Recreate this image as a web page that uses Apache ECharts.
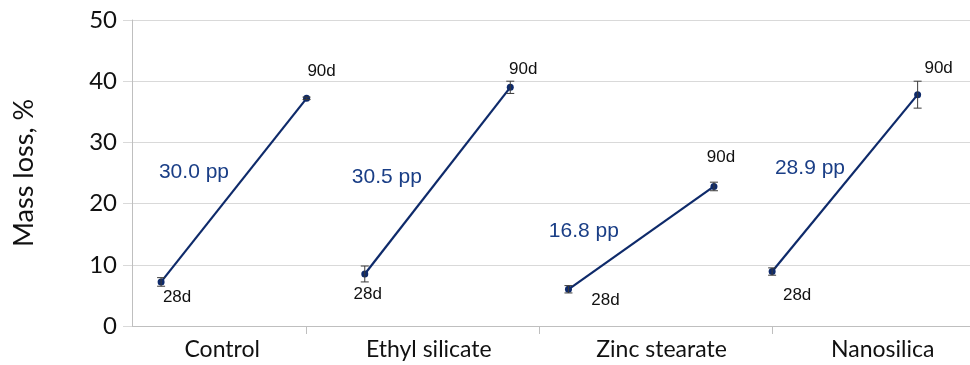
<!DOCTYPE html>
<html>
<head>
<meta charset="utf-8">
<script src="https://cdn.jsdelivr.net/npm/echarts@6/dist/echarts.min.js"></script>
<style>
  html, body { margin: 0; padding: 0; background: #fff; }
  #chart { width: 970px; height: 365px; }
</style>
</head>
<body>
<div id="chart"></div>
<script>
// Treatments and where each one sits along the horizontal scale
const groups = ['Control', 'Ethyl silicate', 'Zinc stearate', 'Nanosilica'];
const pos28 = [1, 8, 15, 22];
const pos90 = [6, 13, 20, 27];
const groupEdges = [6, 14, 22];
const groupCentres = [3.1, 10.2, 18.2, 25.8];

// Mass loss (%) after 28 and 90 days, with error half-widths
const loss28 = [7.2, 8.5, 6.0, 8.9];
const loss90 = [37.2, 39.0, 22.8, 37.8];
const err28 = [0.7, 1.3, 0.6, 0.6];
const err90 = [0.2, 1.0, 0.7, 2.2];

// Y axis scale
const yMin = 0, yMax = 50, yStep = 10;

const lineColor = '#0E2A6A';
const noteColor = '#1A3E86';
const axisFont = 'Lato, "Open Sans", sans-serif';
const tagFont = '"Liberation Sans", Arial, sans-serif';

// Placement of the "28d"/"90d" tags relative to their points (px)
const tagShift28 = [[16, 15], [3, 20], [37, 11], [25, 24]];
const tagShift90 = [[15, -27], [13, -18], [7, -29], [21, -26]];
// Anchor of each difference note, in axis units
const noteAt = [[2.13, 25.2], [8.76, 24.3], [15.53, 15.5], [23.3, 25.8]];

const tagLabel = (shift) => ({
  show: true,
  position: 'inside',
  offset: shift,
  color: '#111',
  fontFamily: tagFont,
  fontSize: 17
});

const lineSeries = groups.map((g, i) => ({
  name: g,
  type: 'line',
  xAxisIndex: 0,
  data: [
    { value: [pos28[i], loss28[i]], label: Object.assign(tagLabel(tagShift28[i]), { formatter: '28d' }) },
    { value: [pos90[i], loss90[i]], label: Object.assign(tagLabel(tagShift90[i]), { formatter: '90d' }) }
  ],
  symbol: 'circle',
  symbolSize: 7,
  itemStyle: { color: lineColor },
  lineStyle: { color: lineColor, width: 2.2 },
  z: 3
}));

const errData = [];
groups.forEach((g, i) => {
  errData.push([pos28[i], loss28[i], err28[i]]);
  errData.push([pos90[i], loss90[i], err90[i]]);
});

const errSeries = {
  type: 'custom',
  xAxisIndex: 0,
  data: errData,
  z: 4,
  renderItem: function (params, api) {
    const x = api.value(0), y = api.value(1), e = api.value(2);
    const hi = api.coord([x, y + e]);
    const lo = api.coord([x, y - e]);
    const cap = 4;
    const style = { stroke: '#3a3a3a', lineWidth: 1 };
    return {
      type: 'group',
      children: [
        { type: 'line', shape: { x1: hi[0], y1: hi[1], x2: lo[0], y2: lo[1] }, style },
        { type: 'line', shape: { x1: hi[0] - cap, y1: hi[1], x2: hi[0] + cap, y2: hi[1] }, style },
        { type: 'line', shape: { x1: lo[0] - cap, y1: lo[1], x2: lo[0] + cap, y2: lo[1] }, style }
      ]
    };
  }
};

// Difference notes: 90d minus 28d, in percentage points
const noteSeries = {
  type: 'scatter',
  xAxisIndex: 0,
  symbolSize: 0,
  itemStyle: { opacity: 1, color: noteColor },
  data: groups.map((g, i) => ({
    value: [noteAt[i][0], noteAt[i][1]],
    diff: (loss90[i] - loss28[i]).toFixed(1) + ' pp'
  })),
  label: {
    show: true,
    position: 'inside',
    formatter: (p) => p.data.diff,
    color: noteColor,
    opacity: 1,
    fontFamily: tagFont,
    fontSize: 21
  },
  z: 5
};

const chart = echarts.init(document.getElementById('chart'), null, { renderer: 'canvas' });
chart.setOption({
  animation: false,
  backgroundColor: '#ffffff',
  grid: { left: 132, right: 0, top: 20, bottom: 39, containLabel: false },
  xAxis: [
    {
      type: 'value',
      min: 0,
      max: 28.8,
      axisLine: { show: true, lineStyle: { color: '#bfbfbf', width: 1 } },
      axisTick: { show: true, customValues: groupEdges, length: 8, lineStyle: { color: '#bfbfbf' } },
      axisLabel: { show: false },
      splitLine: { show: false }
    },
    {
      type: 'value',
      min: 0,
      max: 28.8,
      position: 'bottom',
      axisLine: { show: false },
      axisTick: { show: false },
      splitLine: { show: false },
      axisLabel: {
        show: true,
        customValues: groupCentres,
        formatter: (v) => {
          const k = groupCentres.findIndex((c) => Math.abs(c - v) < 1e-6);
          return k >= 0 ? groups[k] : '';
        },
        margin: 12,
        color: '#111',
        fontFamily: axisFont,
        fontSize: 23
      }
    }
  ],
  yAxis: {
    type: 'value',
    min: yMin,
    max: yMax,
    interval: yStep,
    name: 'Mass loss, %',
    nameLocation: 'middle',
    nameGap: 94,
    nameTextStyle: { color: '#111', fontFamily: axisFont, fontSize: 27 },
    axisLine: { show: true, lineStyle: { color: '#bfbfbf', width: 1 } },
    axisTick: { show: true, length: 9, lineStyle: { color: '#d9d9d9' } },
    axisLabel: { margin: 15, color: '#111', fontFamily: axisFont, fontSize: 24 },
    splitLine: { show: true, lineStyle: { color: '#d9d9d9', width: 1 } }
  },
  series: lineSeries.concat([errSeries, noteSeries])
});
</script>
</body>
</html>
